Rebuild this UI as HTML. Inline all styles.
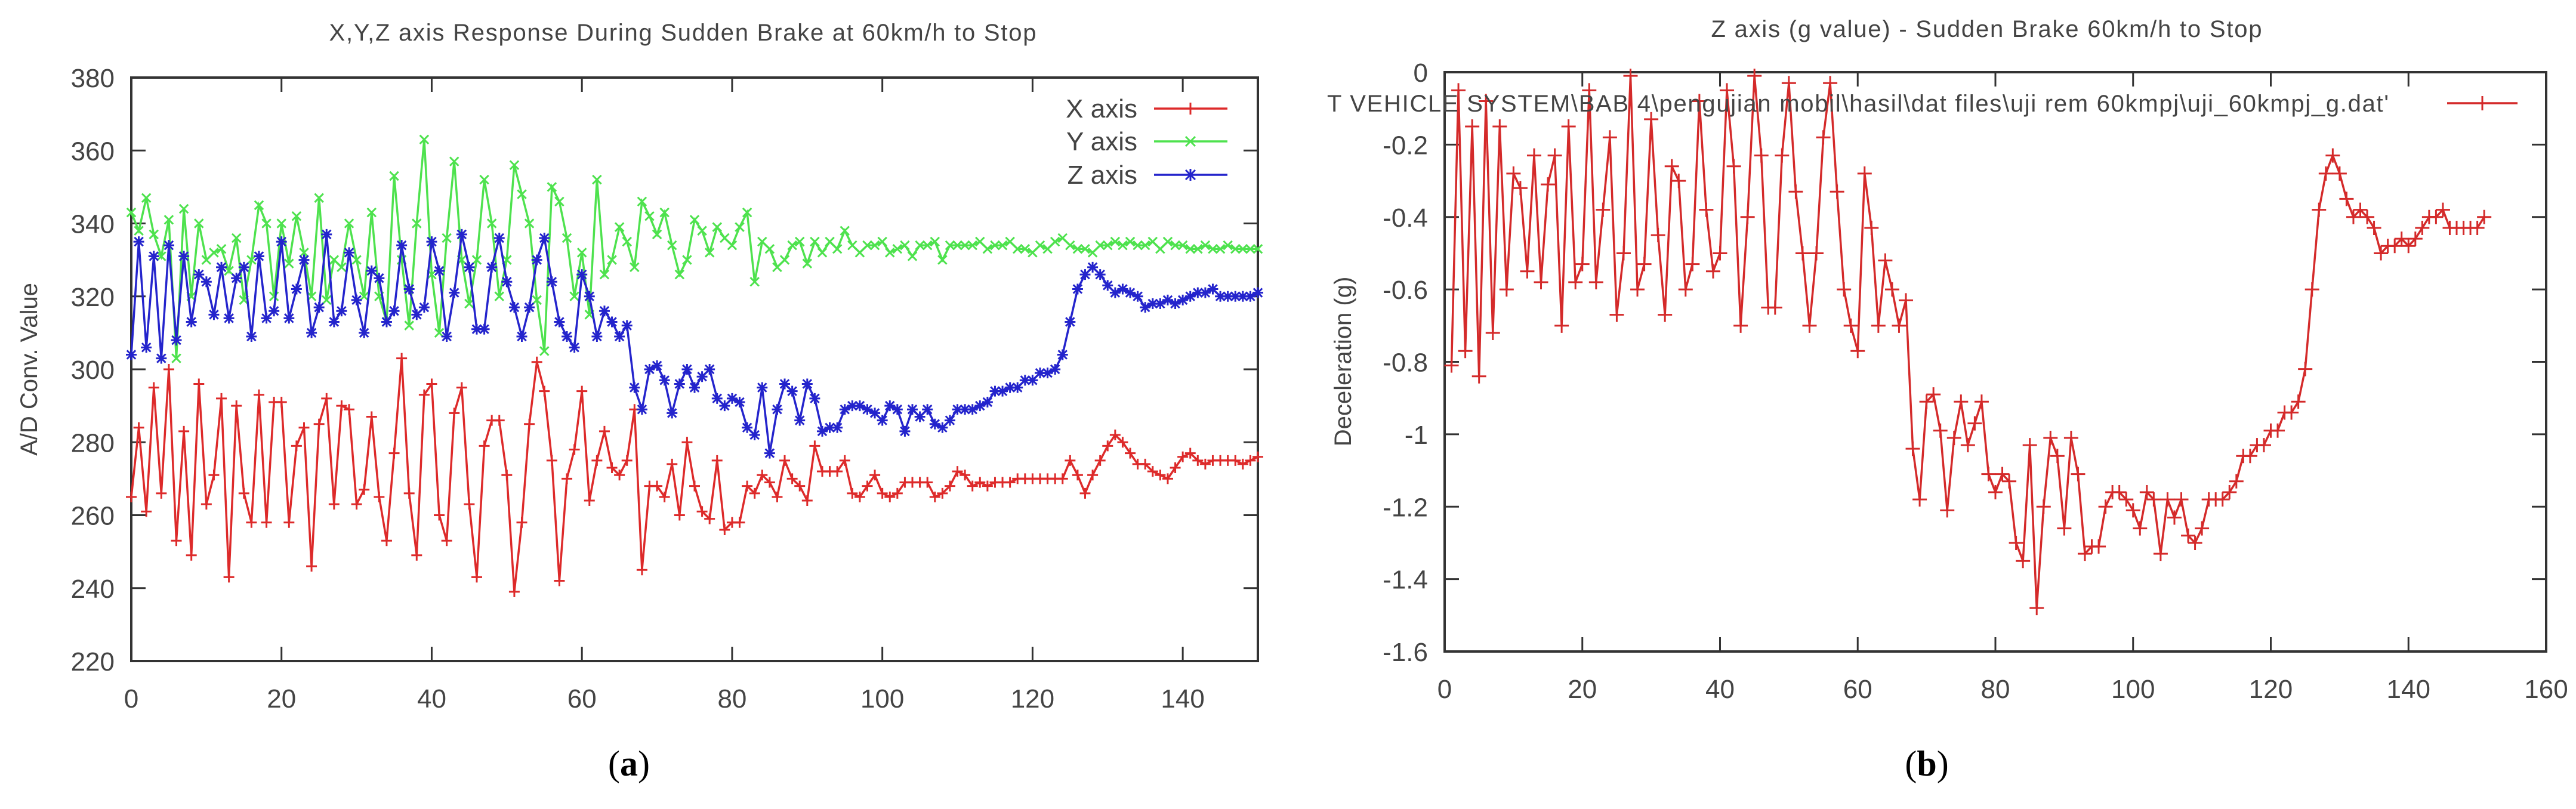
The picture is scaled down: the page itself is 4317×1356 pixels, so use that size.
<!DOCTYPE html>
<html><head><meta charset="utf-8"><style>
html,body{margin:0;padding:0;background:#fff;}
svg{display:block;}
text{font-family:"Liberation Sans",sans-serif;fill:#444;}
</style></head>
<body>
<svg id="fig" width="4317" height="1356" viewBox="0 0 4317 1356" xmlns="http://www.w3.org/2000/svg">
<g id="chartA"></g>
<g id="chartB"></g>
<text x="1054" y="1300" font-size="60" text-anchor="middle" style="font-family:'Liberation Serif',serif;fill:#000">(<tspan font-weight="bold">a</tspan>)</text>
<text x="3229" y="1300" font-size="60" text-anchor="middle" style="font-family:'Liberation Serif',serif;fill:#000">(<tspan font-weight="bold">b</tspan>)</text>
</svg>
<script>
const xSeries = [265,284,261,295,266,300,253,283,249,296,263,271,292,243,290,266,258,293,258,291,291,258,279,284,246,285,292,263,290,289,263,267,287,265,253,277,303,266,249,293,296,260,253,288,295,263,243,279,286,286,271,239,258,285,302,294,275,242,270,278,294,264,275,283,273,271,275,289,245,268,268,265,274,260,280,268,261,259,275,256,258,258,268,266,271,269,265,275,270,268,264,279,272,272,272,275,266,265,268,271,266,265,266,269,269,269,269,265,266,268,272,271,268,269,268,269,269,269,270,270,270,270,270,270,270,275,271,266,271,275,279,282,280,277,274,274,272,271,270,273,276,277,275,274,275,275,275,275,274,275,276];
const ySeries = [343,338,347,337,331,341,303,344,320,340,330,332,333,327,336,319,330,345,340,320,340,329,342,332,320,347,319,330,328,340,330,320,343,320,313,353,330,312,340,363,326,310,336,357,330,318,330,352,340,320,330,356,348,340,319,305,350,346,336,320,332,315,352,326,330,339,335,328,346,342,337,343,334,326,330,341,338,332,339,336,334,339,343,324,335,333,328,330,334,335,329,335,332,335,333,338,334,332,334,334,335,332,333,334,331,334,334,335,330,334,334,334,334,335,333,334,334,335,333,333,332,334,333,335,336,334,333,333,332,334,334,335,334,335,334,334,335,333,335,334,334,333,333,334,333,333,334,333,333,333,333];
const zSeries = [304,335,306,331,303,334,308,331,313,326,324,315,328,314,325,328,309,331,314,316,335,314,322,330,310,317,337,313,316,332,319,310,327,325,313,316,334,322,315,317,335,327,309,321,337,328,311,311,328,336,324,317,309,317,330,336,324,313,309,306,326,320,309,316,313,309,312,295,289,300,301,297,288,296,300,295,298,300,292,290,292,291,284,282,295,277,289,296,294,286,296,292,283,284,284,289,290,290,289,288,286,290,289,283,289,287,289,285,284,286,289,289,289,290,291,294,294,295,295,297,297,299,299,300,304,313,322,326,328,326,323,321,322,321,320,317,318,318,319,318,319,320,321,321,322,320,320,320,320,320,321];
const gSeries = [-0.81,-0.05,-0.77,-0.15,-0.84,-0.08,-0.72,-0.15,-0.60,-0.28,-0.32,-0.55,-0.23,-0.58,-0.31,-0.23,-0.70,-0.15,-0.58,-0.53,-0.05,-0.58,-0.38,-0.18,-0.67,-0.50,-0.01,-0.60,-0.53,-0.13,-0.45,-0.67,-0.26,-0.30,-0.60,-0.53,-0.08,-0.38,-0.55,-0.50,-0.05,-0.26,-0.70,-0.40,-0.01,-0.23,-0.65,-0.65,-0.23,-0.03,-0.33,-0.50,-0.70,-0.50,-0.18,-0.03,-0.33,-0.60,-0.70,-0.77,-0.28,-0.43,-0.70,-0.52,-0.60,-0.70,-0.63,-1.04,-1.18,-0.91,-0.89,-0.99,-1.21,-1.01,-0.91,-1.03,-0.97,-0.91,-1.11,-1.16,-1.11,-1.13,-1.30,-1.35,-1.03,-1.48,-1.20,-1.01,-1.06,-1.26,-1.01,-1.11,-1.33,-1.31,-1.31,-1.20,-1.16,-1.16,-1.18,-1.21,-1.26,-1.16,-1.18,-1.33,-1.18,-1.23,-1.18,-1.28,-1.30,-1.26,-1.18,-1.18,-1.18,-1.16,-1.13,-1.06,-1.06,-1.03,-1.03,-0.99,-0.99,-0.94,-0.94,-0.91,-0.82,-0.60,-0.38,-0.28,-0.23,-0.28,-0.35,-0.40,-0.38,-0.40,-0.43,-0.50,-0.48,-0.48,-0.46,-0.48,-0.46,-0.43,-0.40,-0.40,-0.38,-0.43,-0.43,-0.43,-0.43,-0.43,-0.40];
const aXTicks = [0,20,40,60,80,100,120,140];
const aYTicks = [220,240,260,280,300,320,340,360,380];
const bXTicks = [0,20,40,60,80,100,120,140,160];
const bYTicks = [0,-0.2,-0.4,-0.6,-0.8,-1,-1.2,-1.4,-1.6];
const legendA = ["X axis","Y axis","Z axis"];
const legendB = ["T VEHICLE SYSTEM\\BAB 4\\pengujian mobil\\hasil\\dat files\\uji rem 60kmpj\\uji_60kmpj_g.dat'"];

const NS = "http://www.w3.org/2000/svg";
function mk(tag, attrs, parent){
  const e = document.createElementNS(NS, tag);
  for (const k in attrs) e.setAttribute(k, attrs[k]);
  parent.appendChild(e);
  return e;
}
function txt(str, attrs, parent){ const t = mk('text', attrs, parent); t.textContent = str; return t; }

function marker(g, type, x, y, s, color){
  let d = '';
  if (type==='plus' || type==='star') d += `M${x-s} ${y}H${x+s}M${x} ${y-s}V${y+s}`;
  if (type==='cross' || type==='star') d += `M${x-s*0.8} ${y-s*0.8}L${x+s*0.8} ${y+s*0.8}M${x-s*0.8} ${y+s*0.8}L${x+s*0.8} ${y-s*0.8}`;
  return mk('path', {d:d, stroke:color, 'stroke-width':3, fill:'none'}, g);
}

function frame(g, L, T, R, B, sx, sy, xTicks, yTicks, fmtY){
  const frameEl = mk('rect', {x:L, y:T, width:R-L, height:B-T, fill:'none', stroke:'#333', 'stroke-width':4}, g);
  
  
  xTicks.forEach(v=>{
    const x = sx(v);
    const tk = mk('path', {d:`M${x} ${B}v-24M${x} ${T}v24`, stroke:'#333', 'stroke-width':3}, g);
    
    
    const t = txt(String(v), {x:x, y:B+78, 'font-size':44, 'text-anchor':'middle'}, g);
    
    
  });
  yTicks.forEach(v=>{
    const y = sy(v);
    const tk = mk('path', {d:`M${L} ${y}h24M${R} ${y}h-24`, stroke:'#333', 'stroke-width':3}, g);
    
    
    const t = txt(fmtY(v), {x:L-28, y:y+16, 'font-size':44, 'text-anchor':'end'}, g);
    
    
  });
}

function series(g, vals, x0, sx, sy, color, mtype, ms, name){
  const sg = mk('g', {}, g);
  
  
  const pts = vals.map((v,i)=>[sx(i+x0), sy(v)]);
  const ln = mk('polyline', {points: pts.map(p=>p[0].toFixed(1)+','+p[1].toFixed(1)).join(' '), fill:'none', stroke:color, 'stroke-width':3.5}, sg);
  
  
  pts.forEach(p=>{
    const m = marker(sg, mtype, p[0], p[1], ms, color);
    
    
  });
}

// Chart A
(function(){
  const g = document.getElementById('chartA');
  const L=220,T=130,R=2108,B=1108;
  const sx = v => L + (v-0)/(150-0)*(R-L);
  const sy = v => B - (v-220)/(380-220)*(B-T);
  frame(g,L,T,R,B,sx,sy,aXTicks,aYTicks,v=>String(v));
  const title = txt("X,Y,Z axis Response During Sudden Brake at 60km/h to Stop", {x:1144, y:68, 'font-size':40, 'text-anchor':'middle', textLength:1185}, g);
  
  
  const yl = txt("A/D Conv. Value", {x:0, y:0, 'font-size':40, 'text-anchor':'middle', transform:'translate(62,619) rotate(-90)'}, g);
  
  
  series(g, ySeries, 0, sx, sy, '#4ee24e', 'cross', 9, 'y-axis-series');
  series(g, xSeries, 0, sx, sy, '#dd2a2a', 'plus', 9, 'x-axis-series');
  series(g, zSeries, 0, sx, sy, '#2424cc', 'star', 9, 'z-axis-series');
  const cols = ['#dd2a2a','#4ee24e','#2424cc'], types=['plus','cross','star'], rows=[182,237,293];
  legendA.forEach((s,i)=>{
    const lg = mk('g', {}, g);
    
    
    txt(s, {x:1906, y:rows[i]+15, 'font-size':44, 'text-anchor':'end'}, lg);
    mk('line', {x1:1934, y1:rows[i], x2:2057, y2:rows[i], stroke:cols[i], 'stroke-width':3.5}, lg);
    marker(lg, types[i], 1995, rows[i], 10, cols[i]);
  });
})();

// Chart B
(function(){
  const g = document.getElementById('chartB');
  const L=2421,T=121,R=4267,B=1092;
  const sx = v => L + (v-0)/(160-0)*(R-L);
  const sy = v => T + (0-v)/(0+1.6)*(B-T);
  frame(g,L,T,R,B,sx,sy,bXTicks,bYTicks,v=>String(Math.round(v*10)/10));
  const title = txt("Z axis (g value) - Sudden Brake 60km/h to Stop", {x:3329, y:62, 'font-size':40, 'text-anchor':'middle', textLength:923}, g);
  
  
  const yl = txt("Deceleration (g)", {x:0, y:0, 'font-size':40, 'text-anchor':'middle', transform:'translate(2264,606) rotate(-90)'}, g);
  
  
  series(g, gSeries, 1, sx, sy, '#d42a2a', 'plus', 12, 'g-series');
  const lg = mk('g', {}, g);
  
  
  txt(legendB[0], {x:4003, y:187, 'font-size':40, 'text-anchor':'end', textLength:1779}, lg);
  mk('line', {x1:4101, y1:173, x2:4219, y2:173, stroke:'#d42a2a', 'stroke-width':3.5}, lg);
  marker(lg, 'plus', 4160, 173, 12, '#d42a2a');
})();
</script>
</body></html>
